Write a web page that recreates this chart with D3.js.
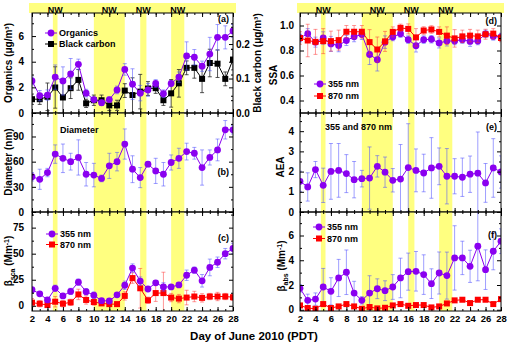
<!DOCTYPE html>
<html>
<head>
<meta charset="utf-8">
<script src="https://cdn.jsdelivr.net/npm/d3@7/dist/d3.min.js"></script>
<style>
body { margin: 0; background: #fff; }
text { font-family: "Liberation Sans", Arial, sans-serif; font-weight: bold; fill: #000; }
</style>
</head>
<body>
<div id="container"></div>
<script>
/* Data */
var days = [2, 3, 4, 5, 6, 7, 8, 9, 10, 11, 12, 13, 14, 15, 16, 17, 18, 19, 20, 21, 22, 23, 24, 25, 26, 27, 28];
var dayTicks = [2, 4, 6, 8, 10, 12, 14, 16, 18, 20, 22, 24, 26, 28];
var nwBands = [[4.7, 5.3], [10, 14], [16, 16.8], [20, 21.7]];

var organics    = [2.5, 1.35, 1.4, 2.8, 2.5, 3.05, 3.8, 1.55, 1.05, 0.8, 1.05, 1.8, 3.4, 2.25, 1.55, 1.8, 2.3, 1.5, 2.3, 2.8, 4.45, 4.35, 3.65, 4.6, 5.9, 5.9, 6.4];
var organicsErr = [0.3, 0.4, 0.4, 0.95, 1.1, 1.2, 0.4, 0.3, 0.2, 0.2, 0.2, 0.3, 0.45, 1.2, 0.6, 0.5, 0.3, 0.3, 0.2, 0.4, 1.1, 0.6, 0.4, 1.3, 1.0, 0.9, 0.5];
var blackCarbon    = [0.04, 0.04, 0.047, 0.074, 0.045, 0.072, 0.096, 0.028, 0.037, 0.037, 0.022, 0.022, 0.065, 0.052, 0.062, 0.071, 0.072, 0.037, 0.057, 0.086, 0.131, 0.131, 0.099, 0.145, 0.143, 0.099, 0.155];
var blackCarbonErr = [0.015, 0.015, 0.04, 0.06, 0.05, 0.03, 0.03, 0.012, 0.015, 0.015, 0.015, 0.015, 0.02, 0.05, 0.05, 0.02, 0.015, 0.015, 0.04, 0.04, 0.02, 0.03, 0.04, 0.04, 0.04, 0.02, 0.03];

var diameter    = [42, 39, 47, 69, 64, 60, 65, 45, 44, 40, 55, 60, 81, 51, 41, 57, 49, 45, 59, 64, 72, 70, 53, 65, 74, 98, 98];
var diameterErr = [5, 12, 5, 11, 17, 10, 21, 14, 14, 4, 15, 11, 18, 16, 12, 3, 15, 14, 9, 12, 10, 7, 21, 9, 13, 11, 5];

var scat355    = [15.5, 11.5, 5.6, 16.8, 9.5, 13.8, 22.7, 13.5, 10.2, 4.9, 4.6, 10.5, 19.7, 36.2, 23.7, 16.1, 22, 18.1, 18.1, 20, 29.3, 34.2, 24, 36.8, 41.8, 50, 55];
var scat355Err = [2, 2, 1, 3, 2, 3, 3, 3, 3, 1.5, 1.5, 2, 4, 4, 4, 2, 2, 4, 2, 2, 5, 3, 6, 8, 5, 5, 5];
var scat870    = [3, 2, 0.7, 3.9, 2, 3.3, 10.9, 5.6, 3.6, 2.3, 1.6, 1.6, 9.5, 26.6, 16.8, 5.3, 12.2, 12.2, 7.9, 6.9, 7.9, 8.9, 7.6, 8.9, 8.9, 8.9, 8.2];
var scat870Err = [4, 3, 2, 5, 3, 3, 5, 4, 3, 2, 2, 2, 4, 5, 19, 3, 8, 20, 4, 4, 7, 5, 4, 3, 4, 3, 3];

var ssa355    = [0.90, 0.935, 0.867, 0.90, 0.853, 0.84, 0.88, 0.91, 0.928, 0.768, 0.726, 0.867, 0.908, 0.935, 0.887, 0.838, 0.887, 0.89, 0.86, 0.876, 0.876, 0.887, 0.873, 0.876, 0.933, 0.913, 0.908];
var ssa355Err = [0.03, 0.04, 0.04, 0.05, 0.06, 0.05, 0.04, 0.04, 0.04, 0.08, 0.09, 0.05, 0.03, 0.03, 0.03, 0.05, 0.03, 0.03, 0.04, 0.04, 0.03, 0.03, 0.04, 0.03, 0.03, 0.03, 0.03];
var ssa870    = [0.90, 0.88, 0.869, 0.875, 0.875, 0.883, 0.95, 0.95, 0.95, 0.867, 0.808, 0.873, 0.949, 0.981, 0.973, 0.905, 0.96, 0.968, 0.949, 0.919, 0.897, 0.913, 0.919, 0.913, 0.93, 0.935, 0.90];
var ssa870Err = [0.05, 0.13, 0.1, 0.1, 0.08, 0.08, 0.05, 0.05, 0.05, 0.1, 0.1, 0.08, 0.04, 0.03, 0.04, 0.07, 0.03, 0.03, 0.04, 0.07, 0.07, 0.05, 0.05, 0.05, 0.04, 0.04, 0.03];

var aea    = [1.52, 1.24, 2.1, 1.32, 2.01, 2.06, 1.9, 1.6, 1.65, 1.68, 2.26, 1.97, 1.57, 1.63, 2.2, 2.06, 1.93, 2.18, 2.26, 1.77, 1.77, 1.72, 1.87, 1.92, 1.44, 2.18, 1.98];
var aeaErr = [0.5, 0.7, 0.4, 0.85, 1.38, 1.33, 0.94, 0.9, 0.41, 1.54, 0.53, 0.75, 0.58, 1.71, 2.17, 1.06, 0.93, 1.5, 0.91, 1.37, 0.87, 0.95, 0.9, 2.04, 0.96, 1.45, 0.8];

var abs355    = [1.73, 0.76, 0.86, 1.84, 1.49, 2.57, 3.03, 1.35, 0.76, 1.35, 1.7, 1.54, 1.84, 2.57, 3.08, 3.11, 2.84, 2.11, 2.97, 2.76, 4.19, 4.19, 3.51, 5.14, 3.24, 4.73, 5.54];
var abs355Err = [0.3, 0.5, 0.5, 1.5, 1.1, 1.5, 1.8, 0.95, 0.3, 1.4, 0.8, 0.8, 1.0, 1.6, 1.5, 1.6, 1.6, 1.2, 1.7, 1.9, 2.6, 1.35, 1.3, 2.8, 1.6, 1.5, 1.0];
var abs870    = [0.35, 0.14, 0.08, 0.46, 0.14, 0.27, 0.46, 0.27, 0.08, 0.22, 0.11, 0.16, 0.35, 0.46, 0.32, 0.38, 0.38, 0.19, 0.27, 0.51, 0.76, 0.81, 0.54, 0.81, 0.81, 0.46, 0.86];
var abs870Err = [0.1, 0.08, 0.08, 0.12, 0.08, 0.1, 0.1, 0.1, 0.06, 0.1, 0.06, 0.08, 0.1, 0.12, 0.1, 0.1, 0.1, 0.08, 0.1, 0.12, 0.12, 0.12, 0.1, 0.12, 0.12, 0.1, 0.12];

/* Colours */
var purple = '#8a00f0', purpleErr = 'rgba(80,80,255,0.55)';
var red = '#ff0000', redErr = 'rgba(255,50,50,0.5)';
var yellow = '#ffff80';

var w = 508, h = 344;
var cols = [{x0: 32, x1: 233}, {x0: 300, x1: 501}];
var rows = [{y0: 13, y1: 113}, {y0: 113, y1: 212}, {y0: 212, y1: 311}];

var svg = d3.select('#container').append('svg')
	.attr('width', w)
	.attr('height', h);

var clipId = 0;

/* one framed panel with bands, ticks and labels */
function makePanel(col, row, yDomain, major, minor, fmt, showX) {
	var c = cols[col], r = rows[row];
	var x = d3.scaleLinear().domain([2, 28]).range([c.x0, c.x1]);
	var y = d3.scaleLinear().domain(yDomain).range([r.y1, r.y0]);
	var g = svg.append('g');

	var id = 'clip' + (clipId++);
	svg.append('clipPath').attr('id', id).append('rect')
		.attr('x', c.x0).attr('y', r.y0).attr('width', c.x1 - c.x0).attr('height', r.y1 - r.y0);

	g.selectAll('.band').data(nwBands).enter().append('rect')
		.attr('x', d => x(d[0]))
		.attr('width', d => x(d[1]) - x(d[0]))
		.attr('y', r.y0).attr('height', r.y1 - r.y0)
		.attr('fill', yellow);

	var plot = g.append('g').attr('clip-path', 'url(#' + id + ')');

	// x ticks
	var xb = g.append('g').attr('transform', 'translate(0,' + r.y1 + ')')
		.call(d3.axisBottom(x).tickValues(dayTicks).tickSize(-4).tickPadding(4).tickFormat(showX ? d3.format('d') : ''));
	g.append('g').attr('transform', 'translate(0,' + r.y1 + ')')
		.call(d3.axisBottom(x).tickValues(days).tickSize(-2).tickFormat(''));
	g.append('g').attr('transform', 'translate(0,' + r.y0 + ')')
		.call(d3.axisTop(x).tickValues(dayTicks).tickSize(-4).tickFormat(''));
	g.append('g').attr('transform', 'translate(0,' + r.y0 + ')')
		.call(d3.axisTop(x).tickValues(days).tickSize(-2).tickFormat(''));
	xb.selectAll('text').style('font-size', '9.5px').style('font-family', null);

	// y ticks
	var yl = g.append('g').attr('transform', 'translate(' + c.x0 + ',0)')
		.call(d3.axisLeft(y).tickValues(major).tickSize(-4).tickPadding(col ? 6 : 8).tickFormat(fmt));
	yl.selectAll('text').style('font-size', '10px').style('font-family', null);
	g.append('g').attr('transform', 'translate(' + c.x0 + ',0)')
		.call(d3.axisLeft(y).tickValues(minor).tickSize(-2).tickFormat(''));
	g.append('g').attr('transform', 'translate(' + c.x1 + ',0)')
		.call(d3.axisRight(y).tickValues(major).tickSize(-4).tickFormat(''));
	g.append('g').attr('transform', 'translate(' + c.x1 + ',0)')
		.call(d3.axisRight(y).tickValues(minor).tickSize(-2).tickFormat(''));

	g.selectAll('.domain').remove();
	g.selectAll('.tick line').attr('stroke', '#000');

	g.append('rect')
		.attr('x', c.x0).attr('y', r.y0)
		.attr('width', c.x1 - c.x0).attr('height', r.y1 - r.y0)
		.attr('fill', 'none').attr('stroke', '#000').attr('stroke-width', 1);

	return {g: g, plot: plot, x: x, y: y, c: c, r: r};
}

/* error bars, line and markers for one series */
function drawSeries(p, y, vals, errs, color, errColor, shape) {
	var pts = days.map((d, i) => ({d: d, v: vals[i], e: errs[i]}));
	var x = p.x;
	var eb = p.plot.append('g').attr('stroke', errColor).attr('stroke-width', 1);
	pts.forEach(function(q) {
		var top = y(q.v + q.e), bot = y(q.v - q.e), cx = x(q.d);
		eb.append('line').attr('x1', cx).attr('x2', cx).attr('y1', top).attr('y2', bot);
		eb.append('line').attr('x1', cx - 2).attr('x2', cx + 2).attr('y1', top).attr('y2', top);
		eb.append('line').attr('x1', cx - 2).attr('x2', cx + 2).attr('y1', bot).attr('y2', bot);
	});
	p.plot.append('path')
		.attr('d', d3.line().x(q => x(q.d)).y(q => y(q.v))(pts))
		.attr('fill', 'none').attr('stroke', color).attr('stroke-width', 1);
	drawMarkers(p.plot, pts.map(q => [x(q.d), y(q.v)]), color, shape);
}

function drawMarkers(g, xy, color, shape) {
	if (shape === 'circle') {
		g.selectAll(null).data(xy).enter().append('circle')
			.attr('cx', d => d[0]).attr('cy', d => d[1]).attr('r', 3.4)
			.attr('fill', color);
	} else {
		g.selectAll(null).data(xy).enter().append('rect')
			.attr('x', d => d[0] - 3).attr('y', d => d[1] - 3)
			.attr('width', 6).attr('height', 6)
			.attr('fill', color);
	}
}

function legendItem(g, x, y, label, color, shape) {
	g.append('line').attr('x1', x).attr('x2', x + 12).attr('y1', y).attr('y2', y)
		.attr('stroke', color).attr('stroke-width', 1);
	drawMarkers(g, [[x + 6, y]], color, shape);
	g.append('text').attr('x', x + 14).attr('y', y + 3.2).style('font-size', '9px').text(label);
}

function panelLabel(p, txt, y) {
	p.g.append('text').attr('x', p.c.x1 - 4).attr('y', y).attr('text-anchor', 'end')
		.style('font-size', '9px').text(txt);
}

function yTitle(x, y, parts) {
	var t = svg.append('text')
		.attr('transform', 'translate(' + x + ',' + y + ') rotate(-90)')
		.attr('text-anchor', 'middle')
		.style('font-size', '10px');
	parts.forEach(function(pt) {
		var s = t.append('tspan').text(pt.t);
		if (pt.dy) s.attr('dy', pt.dy);
		if (pt.size) s.style('font-size', pt.size);
	});
}

/* Top NW strip */
cols.forEach(function(c) {
	var x = d3.scaleLinear().domain([2, 28]).range([c.x0, c.x1]);
	svg.append('rect').attr('x', c.x0 - 3).attr('y', 3).attr('width', c.x1 - c.x0 + 6).attr('height', 10)
		.attr('fill', yellow);
	svg.selectAll(null).data(nwBands).enter().append('text')
		.attr('x', d => x((d[0] + d[1]) / 2))
		.attr('y', 12.5)
		.attr('text-anchor', 'middle')
		.style('font-size', '9px')
		.text('NW');
});

/* (a) Organics + black carbon */
var pa = makePanel(0, 0, [0, 7.8], [0, 2, 4, 6], [1, 3, 5, 7], d3.format('d'), false);
var bcY = d3.scaleLinear().domain([0, 0.29]).range([pa.r.y1, pa.r.y0]);
var bcAxis = pa.g.append('g').attr('transform', 'translate(' + pa.c.x1 + ',0)')
	.call(d3.axisRight(bcY).tickValues([0, 0.1, 0.2]).tickSize(-4).tickPadding(3).tickFormat(d3.format('.1f')));
pa.g.append('g').attr('transform', 'translate(' + pa.c.x1 + ',0)')
	.call(d3.axisRight(bcY).tickValues([0.05, 0.15, 0.25]).tickSize(-2).tickFormat(''));
pa.g.selectAll('.domain').remove();
bcAxis.selectAll('text').style('font-size', '10px').style('font-family', null);
drawSeries(pa, bcY, blackCarbon, blackCarbonErr, '#000', 'rgba(40,40,40,0.8)', 'square');
drawSeries(pa, pa.y, organics, organicsErr, purple, purpleErr, 'circle');
legendItem(pa.g, 45, 33, 'Organics', purple, 'circle');
legendItem(pa.g, 45, 44, 'Black carbon', '#000', 'square');
panelLabel(pa, '(a)', 22);

/* (b) Diameter */
var pb = makePanel(0, 1, [0, 118], [0, 30, 60, 90], [15, 45, 75, 105], d3.format('d'), false);
drawSeries(pb, pb.y, diameter, diameterErr, purple, purpleErr, 'circle');
pb.g.append('text').attr('x', 60).attr('y', 133).style('font-size', '9px').text('Diameter');
panelLabel(pb, '(b)', 175);

/* (c) Scattering */
var pc = makePanel(0, 2, [-5, 90], [0, 25, 50, 75], [12.5, 37.5, 62.5, 87.5], d3.format('d'), true);
drawSeries(pc, pc.y, scat870, scat870Err, red, redErr, 'square');
drawSeries(pc, pc.y, scat355, scat355Err, purple, purpleErr, 'circle');
legendItem(pc.g, 46, 234, '355 nm', purple, 'circle');
legendItem(pc.g, 46, 244.5, '870 nm', red, 'square');
panelLabel(pc, '(c)', 241);

/* (d) SSA */
var pd = makePanel(1, 0, [0.3, 1.1], [0.4, 0.6, 0.8, 1.0], [0.5, 0.7, 0.9], d3.format('.1f'), false);
drawSeries(pd, pd.y, ssa355, ssa355Err, purple, purpleErr, 'circle');
drawSeries(pd, pd.y, ssa870, ssa870Err, red, redErr, 'square');
legendItem(pd.g, 314, 84, '355 nm', purple, 'circle');
legendItem(pd.g, 314, 96, '870 nm', red, 'square');
panelLabel(pd, '(d)', 24);

/* (e) AEA */
var pe = makePanel(1, 1, [0, 4.9], [0, 1, 2, 3, 4], [0.5, 1.5, 2.5, 3.5, 4.5], d3.format('d'), false);
drawSeries(pe, pe.y, aea, aeaErr, purple, purpleErr, 'circle');
pe.g.append('text').attr('x', 325).attr('y', 130).style('font-size', '9px').text('355 and 870 nm');
panelLabel(pe, '(e)', 130);

/* (f) Absorption */
var pf = makePanel(1, 2, [-0.1, 7.9], [0, 2, 4, 6], [1, 3, 5, 7], d3.format('d'), true);
drawSeries(pf, pf.y, abs355, abs355Err, purple, purpleErr, 'circle');
drawSeries(pf, pf.y, abs870, abs870Err, red, redErr, 'square');
legendItem(pf.g, 313, 227, '355 nm', purple, 'circle');
legendItem(pf.g, 313, 238.5, '870 nm', red, 'square');
panelLabel(pf, '(f)', 238);

/* Axis titles */
yTitle(12, 63, [{t: 'Organics (\u03bcg/m\u00b3)'}]);
yTitle(12, 162, [{t: 'Diameter (nm)'}]);
yTitle(12, 261, [{t: '\u03b2'}, {t: 'sca', dy: 3, size: '7px'}, {t: ' (Mm', dy: -3}, {t: '-1', dy: -3, size: '7px'}, {t: ')', dy: 3}]);
yTitle(261, 63, [{t: 'Black carbon (\u03bcg/m\u00b3)'}]);
yTitle(277, 75, [{t: 'SSA'}]);
yTitle(284, 167, [{t: 'AEA'}]);
yTitle(285, 266, [{t: '\u03b2'}, {t: 'abs', dy: 3, size: '7px'}, {t: ' (Mm', dy: -3}, {t: '-1', dy: -3, size: '7px'}, {t: ')', dy: 3}]);

svg.append('text')
	.attr('x', 254).attr('y', 340)
	.attr('text-anchor', 'middle')
	.style('font-size', '11.5px')
	.text('Day of June 2010 (PDT)');
</script>
</body>
</html>
